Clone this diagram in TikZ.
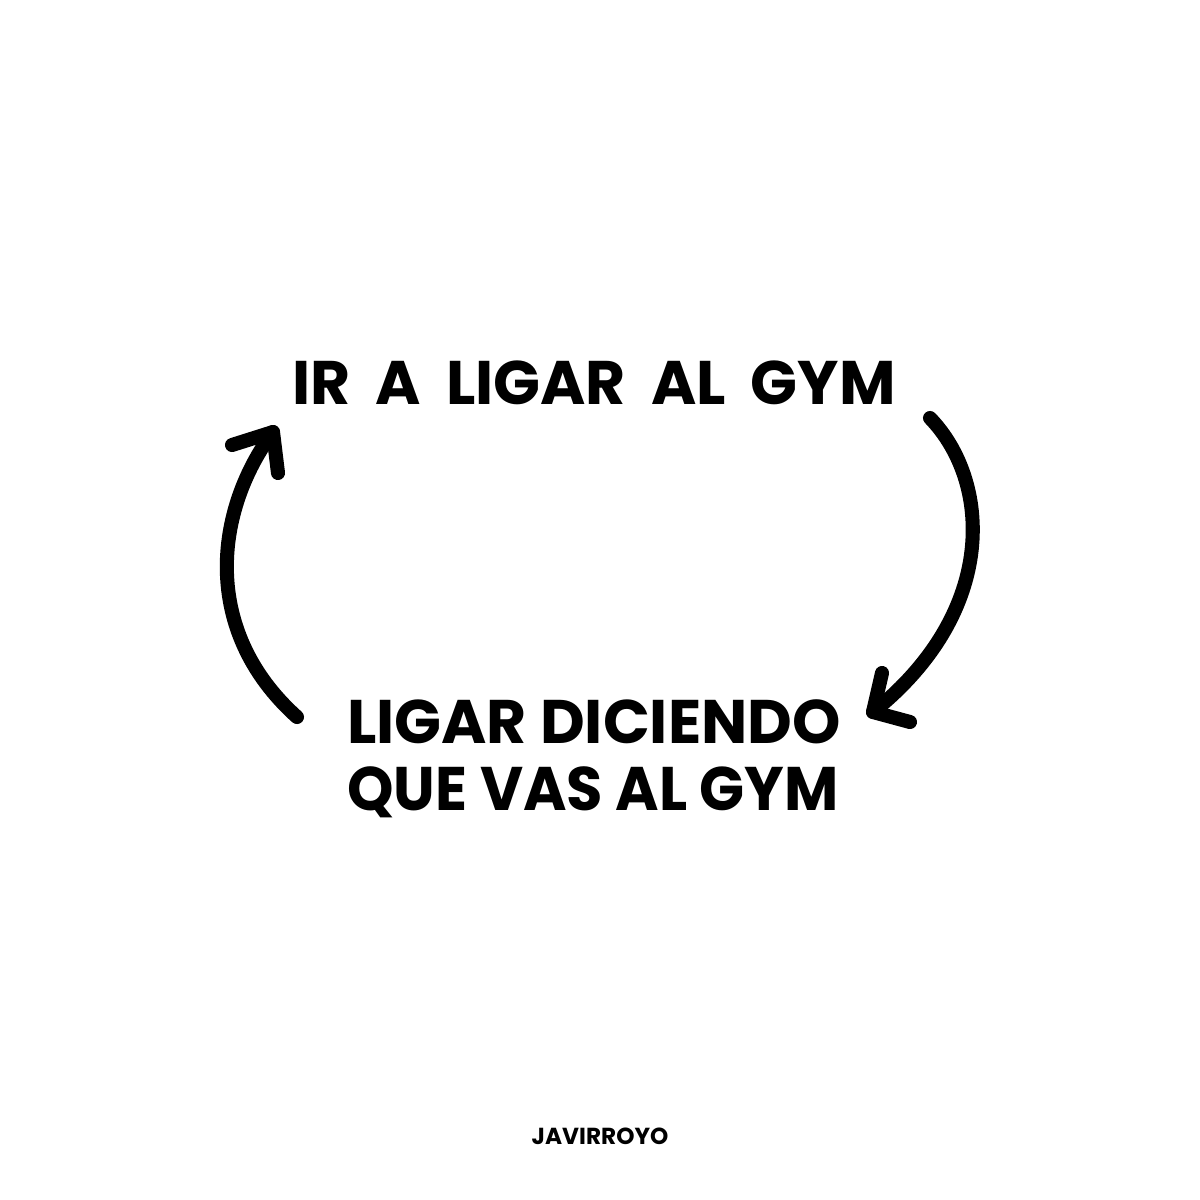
\documentclass[tikz,border=0pt]{standalone}
\usepackage{fontspec}
\setmainfont{Poppins}[BoldFont={* Bold}]
\newfontfamily\handfont{Poppins}[UprightFont={* Bold}]
\newfontfamily\sigfont{Poppins}[UprightFont={* Bold}]
\newcommand{\wsp}{\hspace{0.12cm}}
\begin{document}
\begin{tikzpicture}[x=0.01cm,y=-0.01cm,
  lbl/.style={inner sep=0pt,font=\handfont\fontsize{17.5pt}{24pt}\selectfont,align=center},
  stroke/.style={line width=4pt,line cap=round,line join=round,black}]
\useasboundingbox[fill=white] (0,0) rectangle (1200,1200);
\node[lbl] (top) at (594,383) {IR \wsp A \wsp LIGAR \wsp AL \wsp GYM};
\node[lbl] (l1) at (594,722) {LIGAR DICIENDO};
\node[lbl,xscale=0.96] (l2) at (593,792) {QUE VAS AL GYM};
\node[inner sep=0pt,font=\sigfont\fontsize{6.6pt}{8pt}\selectfont] (sig) at (600,1136) {JAVIRROYO};
% right arrow
\coordinate (rs) at (930,418);
\coordinate (rt) at (873,712);
\draw[stroke] (rs) .. controls (990,480) and (1000,610) .. (rt);
\draw[stroke] (882,673) -- (rt) -- (910,722);
% left arrow
\coordinate (ls) at (297,717);
\coordinate (lt) at (273,432);
\draw[stroke] (ls) .. controls (200,630) and (215,510) .. (lt);
\draw[stroke] (232,445) -- (lt) -- (278,473);
\end{tikzpicture}
\end{document}
